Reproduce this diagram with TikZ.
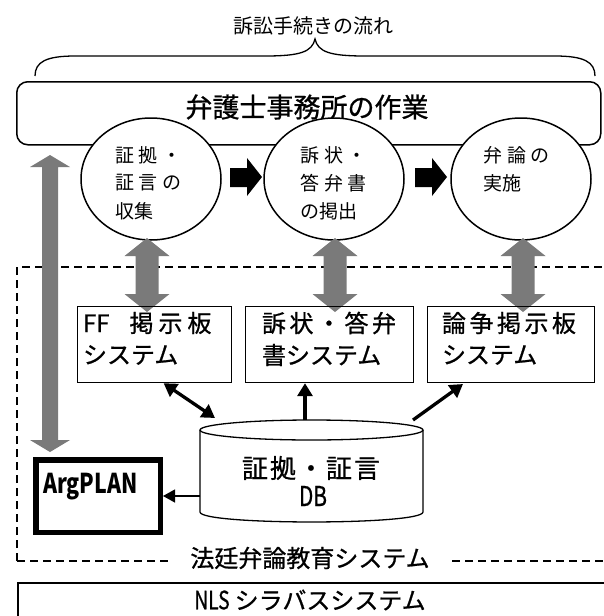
\documentclass[tikz,border=0pt]{standalone}
\usepackage{fontspec}
\usepackage{graphicx}
\setmainfont{Noto Sans CJK JP}
\newfontfamily\gothic[FakeBold=0.8]{Noto Sans CJK JP}
\usetikzlibrary{arrows.meta,shapes.geometric}
\newcommand\fsz[1]{\fontsize{#1}{#1}\selectfont}
\newcommand\nar[1]{\scalebox{0.8}[1.05]{#1}}
\newcommand\garrow[6]{%
  \fill[garrowfill] (#1,#2) -- ({#1+#5},{#2+#6}) -- ({#1+#4},{#2+#6}) -- ({#1+#4},{#3-#6}) -- ({#1+#5},{#3-#6}) -- (#1,#3) -- ({#1-#5},{#3-#6}) -- ({#1-#4},{#3-#6}) -- ({#1-#4},{#2+#6}) -- ({#1-#5},{#2+#6}) -- cycle;}
\newcommand\blockarrow[1]{%
  \fill[black] ({#1},168) -- ({#1+17},168) -- ({#1+17},158) -- ({#1+32},177) -- ({#1+17},196) -- ({#1+17},187) -- ({#1},187) -- cycle;}
\begin{document}
\begin{tikzpicture}[x=1pt,y=-1pt,
  lbl/.style={inner sep=0pt, outer sep=0pt},
  garrowfill/.style={fill=black!52},
  circ/.style={draw, ellipse, fill=white, line width=1.5pt, minimum width=140pt, minimum height=122pt, inner sep=0pt},
  ctext/.style={lbl, anchor=west, font=\fsz{19}},
  sysbox/.style={draw, line width=1.2pt, minimum height=76pt, anchor=north west, inner sep=0pt},
  btext/.style={lbl, anchor=west, font=\gothic\fsz{24}},
  dashline/.style={line width=1.6pt, dash pattern=on 8pt off 5pt},
  thickarr/.style={line width=3.3pt, -{Triangle[length=13pt,width=15pt]}},
]
\useasboundingbox (0,0) rectangle (604,616);
\clip (0,0) rectangle (604,616);

% title and brace
\node[lbl, font=\fsz{20}] (title) at (313,26) {訴訟手続きの流れ};
\draw[line width=1.3pt] (35,76) .. controls (35,62) and (46,56) .. (75,56) -- (265,56)
  .. controls (300,56) and (312,52) .. (315,39)
  .. controls (318,52) and (330,56) .. (365,56) -- (555,56)
  .. controls (584,56) and (595,62) .. (595,76);

% office box
\node[draw, line width=1.5pt, rounded corners=11pt, minimum width=584pt, minimum height=63pt, anchor=north west, inner sep=0pt] (office) at (16,81) {};
\node[lbl, font=\gothic\fsz{27}] (officet) at (307,107) {弁護士事務所の作業};

% dashed education system frame
\draw[dashline] (17,561) -- (17,267) -- (610,267);
\draw[dashline] (17,561) -- (168,561);
\draw[dashline] (452,561) -- (610,561);
\node[lbl, font=\gothic\fsz{24}] (edu) at (310,558) {法廷弁論教育システム};

% circles
\node[circ] (c1) at (151,179) {};
\node[circ] (c2) at (334,179) {};
\node[circ] (c3) at (521,179) {};
\node[ctext] (c1a) at (115,155) {証\kern5pt 拠\kern5pt ・};
\node[ctext] (c1b) at (115,183) {証\kern5pt 言\kern5pt の};
\node[ctext] (c1c) at (115,211) {収集};
\node[ctext] (c2a) at (300,155) {訴\kern5pt 状\kern5pt ・};
\node[ctext] (c2b) at (300,183) {答\kern5pt 弁\kern5pt 書};
\node[ctext] (c2c) at (300,211) {の掲出};
\node[ctext] (c3a) at (483,155) {弁\kern5pt 論\kern5pt の};
\node[ctext] (c3b) at (483,183) {実施};

% black block arrows
\blockarrow{230}
\blockarrow{415}

% grey arrows
\garrow{147}{238}{312}{11.5}{22.5}{18}
\garrow{335}{238}{312}{11.5}{22.5}{18}
\garrow{523}{238}{312}{11.5}{22.5}{18}
\garrow{50}{155}{452}{8}{20}{12}

% system boxes
\node[sysbox, minimum width=154pt] (ff) at (77,306) {};
\node[sysbox, minimum width=168pt] (bs) at (245,306) {};
\node[sysbox, minimum width=167pt] (ron) at (427,306) {};
\node[btext] (ffa) at (83,323) {FF\kern20pt 掲\kern5pt 示\kern5pt 板};
\node[btext] (ffb) at (83,355) {システム};
\node[btext] (bsa) at (262,323) {訴\kern3.5pt 状\kern3.5pt ・\kern3.5pt 答\kern3.5pt 弁};
\node[btext] (bsb) at (262,355) {書システム};
\node[btext] (rona) at (442,323) {論\kern3.5pt 争\kern3.5pt 掲\kern3.5pt 示\kern3.5pt 板};
\node[btext] (ronb) at (442,355) {システム};

% database cylinder
\node[lbl, minimum width=223pt, minimum height=102pt] (db) at (311.5,471) {};
\draw[line width=1.3pt, fill=white] (200,430) -- (200,512) .. controls (200,525.3) and (423,525.3) .. (423,512) -- (423,430);
\draw[line width=1.3pt, fill=white] (311.5,430) ellipse [x radius=111.5, y radius=10];
\node[lbl, font=\gothic\fsz{26}] (dba) at (311,468) {証\kern2pt 拠\kern2pt ・\kern2pt 証\kern2pt 言};
\node[lbl, font=\gothic\fsz{26}] (dbb) at (313,496) {\nar{DB}};

% ArgPLAN
\node[draw, line width=5.5pt, minimum width=124.5pt, minimum height=72.5pt, inner sep=0pt] (arg) at (98,496) {};
\node[lbl, anchor=west, font=\fsz{26}\bfseries] (argt) at (43,487) {\scalebox{0.82}[1.05]{ArgPLAN}};

% connectors
\coordinate (ffend) at ([xshift=9pt]ff.south);
\coordinate (dbl) at (215,418);
\draw[line width=3.3pt, {Triangle[length=13pt,width=15pt]}-{Triangle[length=13pt,width=15pt]}] (ffend) -- (dbl);
\coordinate (dbm) at (305,420);
\draw[thickarr] (dbm) -- (dbm |- bs.south);
\coordinate (dbr) at (413,420);
\coordinate (ronend) at (463,384);
\draw[thickarr] (dbr) -- (ronend);
\draw[line width=1.3pt, -{Triangle[length=12pt,width=13pt]}] (db.west |- arg.east) -- (arg.east);

% NLS box
\node[draw, line width=1.5pt, minimum width=640pt, minimum height=60pt, anchor=north west, inner sep=0pt] (nls) at (17,582) {};
\node[lbl, font=\gothic\fsz{24}] (nlst) at (310,600) {\nar{NLS}\kern5pt シラバスシステム};
\end{tikzpicture}
\end{document}
